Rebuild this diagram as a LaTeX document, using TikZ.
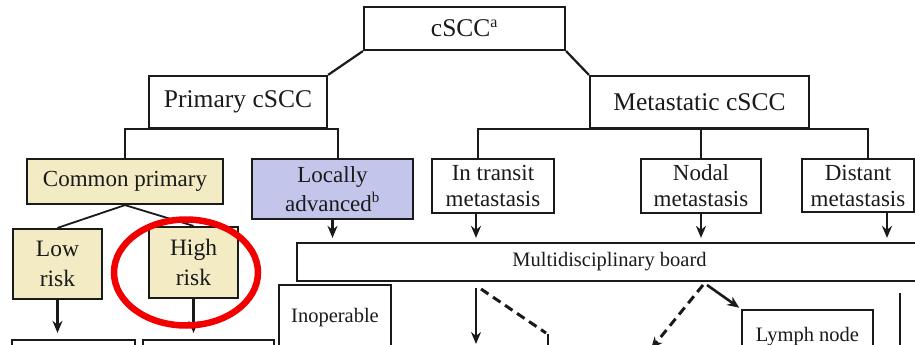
\documentclass[tikz,border=0pt]{standalone}
\usepackage{fontspec}
\setmainfont{Liberation Serif}
\usetikzlibrary{arrows.meta}
\definecolor{ink}{HTML}{1A1A1A}
\definecolor{beige}{HTML}{F3EBC4}
\definecolor{lav}{HTML}{C4C5EB}
\definecolor{redmark}{HTML}{F20000}
\tikzset{
  boxn/.style={draw=ink, line width=2.2pt, text=ink, align=center, inner sep=0pt},
  fbig/.style={font=\fontsize{25.5}{29}\selectfont},
  fmid/.style={font=\fontsize{23}{28}\selectfont},
  fsmall/.style={font=\fontsize{20.5}{24}\selectfont},
  conn/.style={draw=ink, line width=2.2pt},
  arr/.style={draw=ink, line width=2.6pt, -{Stealth[length=12pt,width=10pt]}},
  dashln/.style={draw=ink, line width=3pt, dash pattern=on 9pt off 5.5pt},
}
\begin{document}
\begin{tikzpicture}[x=1pt,y=-1pt]
\useasboundingbox (0,0) rectangle (915,345);
\clip (0,0) rectangle (915,345);
\fill[white] (0,0) rectangle (915,345);
% top levels
\node[boxn,fbig,minimum width=201,minimum height=43] (cscc) at (464.5,28.5) {cSCC\textsuperscript{\fontsize{16}{16}\selectfont a}};
\node[boxn,fbig,minimum width=178,minimum height=52] (prim) at (238,102) {Primary cSCC};
\node[boxn,fbig,minimum width=219,minimum height=52] (meta) at (699.5,102) {Metastatic cSCC};
% second level
\node[boxn,fmid,fill=beige,minimum width=196,minimum height=45] (cp) at (125,181.5) {Common primary};
\node[boxn,font=\fontsize{23}{29}\selectfont,fill=lav,minimum width=161,minimum height=60] (la) at (332.5,189) {Locally\\advanced\textsuperscript{\fontsize{15}{15}\selectfont b}};
\node[boxn,font=\fontsize{23}{26}\selectfont,minimum width=122,minimum height=54] (it) at (493,186) {In transit\\metastasis};
\node[boxn,font=\fontsize{23}{26}\selectfont,minimum width=120,minimum height=54] (nm) at (701,186) {Nodal\\metastasis};
\node[boxn,font=\fontsize{23}{26}\selectfont,minimum width=112,minimum height=53] (dm) at (858,185.5) {Distant\\metastasis};
% risk
\node[boxn,font=\fontsize{23.5}{30}\selectfont,fill=beige,minimum width=89,minimum height=70] (lr) at (57.5,264) {Low\\risk};
\node[boxn,font=\fontsize{23.5}{30}\selectfont,fill=beige,minimum width=89,minimum height=71] (hr) at (193.5,262.5) {High\\risk};
% board
\node[boxn,fsmall,minimum width=625,minimum height=38] (mdb) at (609.5,262) {Multidisciplinary board};
% lower boxes (cut off)
\node[boxn,minimum width=123,minimum height=40] (lb1) at (73.5,360) {};
\node[boxn,minimum width=131,minimum height=40] (lb2) at (208.5,360) {};
\node[boxn,minimum width=112,minimum height=115] (inop) at (335,342.5) {};
\node[fsmall,text=ink,anchor=center] (inoptxt) at (335,318) {Inoperable};
\node[boxn,minimum width=131,minimum height=90] (lymph) at (807.5,355) {};
\node[fsmall,text=ink,anchor=center] (lymphtxt) at (807.5,337) {Lymph node};
% tree connectors
\draw[conn] (cscc.south west) -- (prim.north east);
\draw[conn] (cscc.south east) -- (meta.north west);
\draw[conn] (cp.north) |- (prim.south) -| ([xshift=5.5pt]la.north);
\draw[conn] ([xshift=-15pt]it.north) |- (meta.south) -| ([xshift=10pt]dm.north);
\draw[conn] (meta.south -| nm.north) -- (nm.north);
\draw[conn,line width=1.8pt] (cp.south) -- (lr.north);
\draw[conn,line width=1.8pt] (cp.south) -- (hr.north);
% arrows to board
\coordinate (ita) at ([xshift=-17pt]it.south);
\coordinate (dma) at ([xshift=29pt]dm.south);
\draw[arr,shorten >=4pt] (la.south) -- (la.south |- mdb.north);
\draw[arr,shorten >=4pt] (ita) -- (ita |- mdb.north);
\draw[arr,shorten >=4pt] (nm.south) -- (nm.south |- mdb.north);
\draw[arr,shorten >=4pt] (dma) -- (dma |- mdb.north);
% arrows from risk boxes
\draw[arr,shorten >=6pt] (lr.south) -- (lr.south |- lb1.north);
\draw[arr,shorten >=6pt] (hr.south) -- (hr.south |- lb2.north);
% arrows from board
\coordinate (s1) at (476,288);
\coordinate (e1) at (476,344);
\draw[arr] (s1) -- (e1);
\coordinate (s2) at (481,289);
\coordinate (e2) at (546,333);
\draw[dashln] (s2) -- (e2);
\coordinate (v1) at (548,334);
\coordinate (v2) at (548,350);
\draw[conn,line width=2.6pt] (v1) -- (v2);
\coordinate (s3) at (703,285);
\coordinate (e3) at (651,349);
\draw[dashln,-{Stealth[length=12pt,width=10pt]}] (s3) -- (e3);
\coordinate (s4) at (707,285);
\draw[arr,shorten >=2pt] (s4) -- (lymph.north west);
\coordinate (s5) at (900,293);
\coordinate (e5) at (900,350);
\draw[conn,line width=2.6pt] (s5) -- (e5);
% red highlight
\draw[redmark,line width=6.5pt] (186,272.5) ellipse [x radius=72, y radius=53];
\end{tikzpicture}
\end{document}
